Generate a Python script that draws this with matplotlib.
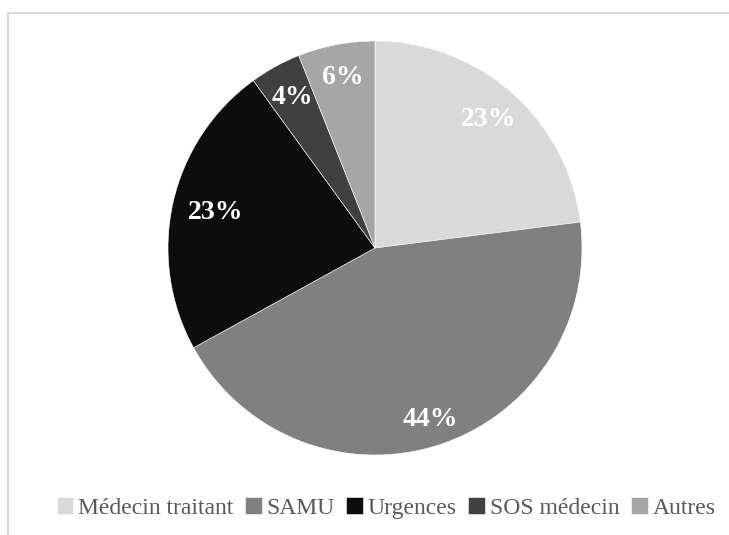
import matplotlib
matplotlib.use("Agg")
import numpy as np
import matplotlib.pyplot as plt
from matplotlib.patches import Rectangle

plt.rcParams['font.family'] = ['Liberation Serif', 'DejaVu Serif']

# data
labels = ['Médecin traitant', 'SAMU', 'Urgences', 'SOS médecin', 'Autres']
values = [23, 44, 23, 4, 6]
colors = ['#d9d9d9', '#808080', '#0d0d0d', '#404040', '#a6a6a6']

fig = plt.figure(figsize=(7.29, 5.35), dpi=100)

# chart border (clipped at right and bottom like the reference)
fig.patches.append(Rectangle((8 / 729, -0.1), 1.2, 1 - 13 / 535 + 0.1,
                             transform=fig.transFigure, fill=False,
                             edgecolor='#d9d9d9', linewidth=1.5))

ax = fig.add_axes([168 / 729, 80 / 535, 414 / 729, 414 / 535])
wedges, texts, autotexts = ax.pie(values, colors=colors, startangle=90, counterclock=False,
                                  autopct='%1.0f%%', pctdistance=0.83,
                                  wedgeprops=dict(edgecolor='white', linewidth=0.4),
                                  textprops=dict(color='white', fontsize=20, fontweight='bold'))

# label distance per slice (Excel-like placement)
dists = [0.83, 0.87, 0.79, 0.83, 0.84]
for w, t, d in zip(wedges, autotexts, dists):
    ang = np.deg2rad((w.theta1 + w.theta2) / 2)
    t.set_position((d * np.cos(ang), d * np.sin(ang)))

ax.set_xlim(-1, 1)
ax.set_ylim(-1, 1)
ax.set_aspect('equal')

fig.legend(wedges, labels, loc='center', bbox_to_anchor=(386 / 729, 1 - 508 / 535),
           ncol=5, frameon=False, handlelength=0.7, handleheight=0.7,
           handletextpad=0.2, columnspacing=0.5, labelcolor='#595959',
           prop=dict(size=17))

fig.savefig('out.png', dpi=100)
